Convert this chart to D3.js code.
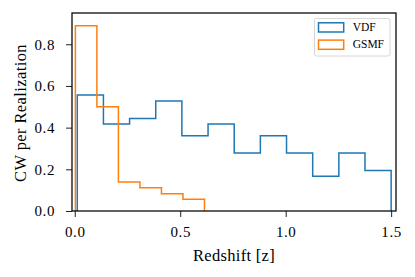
<!DOCTYPE html>
<html lang="en">
<head>
<meta charset="utf-8">
<style>
    body { margin: 0; padding: 0; background: #fff; }
    svg { display: block; }
    text { font-family: "Liberation Serif", "DejaVu Serif", serif; fill: #000; }
</style>
</head>
<body>
<script src="https://cdn.jsdelivr.net/npm/d3@7"></script>
<script>
// histogram bin edges and heights
var vdfEdges = [0.012, 0.136, 0.26, 0.384, 0.508, 0.632, 0.756, 0.88, 1.004, 1.128, 1.252, 1.376, 1.5];
var vdfValues = [0.556, 0.417, 0.444, 0.528, 0.361, 0.417, 0.278, 0.361, 0.278, 0.167, 0.278, 0.194];
var gsmfEdges = [0.003, 0.105, 0.207, 0.309, 0.411, 0.513, 0.615];
var gsmfValues = [0.889, 0.5, 0.139, 0.111, 0.083, 0.056];
var xTicks = [0.0, 0.5, 1.0, 1.5];
var yTicks = [0.0, 0.2, 0.4, 0.6, 0.8];
var seriesNames = ['VDF', 'GSMF'];
var seriesColors = ['#1f77b4', '#ff7f0e'];

var W = 415, H = 277;
var m = { left: 72, top: 13, right: 19, bottom: 66 };
var w = W - m.left - m.right, h = H - m.top - m.bottom;

var svg = d3.select('body').append('svg').attr('width', W).attr('height', H);
var g = svg.append('g').attr('transform', 'translate(' + m.left + ',' + m.top + ')');

var x = d3.scaleLinear().domain([-0.013, 1.523]).range([0, w]);
var y = d3.scaleLinear().domain([0, 0.95]).range([h, 0]);

// step outline of a histogram
function stepPath(edges, vals) {
    var pts = [[edges[0], 0]];
    vals.forEach(function (v, i) {
        pts.push([edges[i], v]);
        pts.push([edges[i + 1], v]);
    });
    pts.push([edges[edges.length - 1], 0]);
    return d3.line().x(function (d) { return x(d[0]); }).y(function (d) { return y(d[1]); })(pts);
}

g.append('path').attr('d', stepPath(vdfEdges, vdfValues))
    .attr('fill', 'none').attr('stroke', seriesColors[0]).attr('stroke-width', 1.5);
g.append('path').attr('d', stepPath(gsmfEdges, gsmfValues))
    .attr('fill', 'none').attr('stroke', seriesColors[1]).attr('stroke-width', 1.5);

// axes
var xAxis = g.append('g').attr('transform', 'translate(0,' + h + ')')
    .call(d3.axisBottom(x).tickValues(xTicks).tickFormat(d3.format('.1f')).tickSize(6).tickPadding(9.5));
var yAxis = g.append('g')
    .call(d3.axisLeft(y).tickValues(yTicks).tickFormat(d3.format('.1f')).tickSize(6).tickPadding(11));
[xAxis, yAxis].forEach(function (a) {
    a.attr('font-family', null).attr('font-size', null);
    a.select('.domain').remove();
    a.selectAll('.tick line').attr('stroke', '#222').attr('stroke-width', 1);
    a.selectAll('.tick text').attr('font-size', 15).attr('letter-spacing', 0.6);
});

// frame
g.append('rect').attr('width', w).attr('height', h)
    .attr('fill', 'none').attr('stroke', '#000').attr('stroke-width', 1.25);

// axis labels
svg.append('text').attr('x', m.left + w / 2).attr('y', 261)
    .attr('text-anchor', 'middle').attr('font-size', 16.5).attr('letter-spacing', 0.3).text('Redshift [z]');
svg.append('text').attr('transform', 'translate(26,' + (m.top + h / 2 + 1) + ') rotate(-90)')
    .attr('text-anchor', 'middle').attr('font-size', 16.5).attr('letter-spacing', 0.4).text('CW per Realization');

// legend
var lg = svg.append('g').attr('transform', 'translate(314,18)');
lg.append('rect').attr('x', 0.5).attr('y', 0.5).attr('width', 75.5).attr('height', 37.5).attr('rx', 2)
    .attr('fill', '#fff').attr('fill-opacity', 0.8).attr('stroke', '#d6d6d6').attr('stroke-width', 1);
seriesNames.forEach(function (name, i) {
    var row = lg.append('g').attr('transform', 'translate(0,' + (i * 17.3) + ')');
    row.append('rect').attr('x', 4.5).attr('y', 4.8).attr('width', 25.2).attr('height', 9.2)
        .attr('fill', 'none').attr('stroke', seriesColors[i]).attr('stroke-width', 1.5);
    row.append('text').attr('x', 38.7).attr('y', 13.2).attr('font-size', 11.5).text(name);
});
</script>
</body>
</html>
